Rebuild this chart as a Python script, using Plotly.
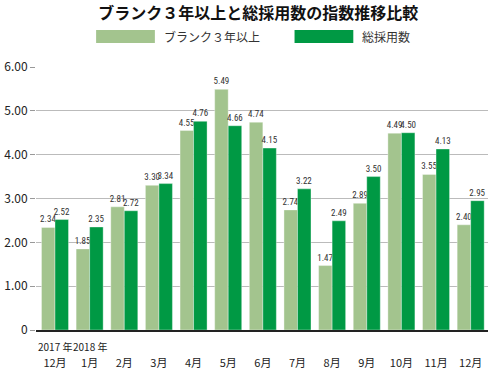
import plotly.graph_objects as go

months = ["12月", "1月", "2月", "3月", "4月", "5月", "6月", "7月", "8月", "9月", "10月", "11月", "12月"]
cat_keys = ["2017-12", "2018-01", "2018-02", "2018-03", "2018-04", "2018-05", "2018-06",
            "2018-07", "2018-08", "2018-09", "2018-10", "2018-11", "2018-12"]
year_labels = {"2017-12": "2017 年", "2018-01": "2018 年"}
blank3 = [2.34, 1.85, 2.81, 3.30, 4.55, 5.49, 4.74, 2.74, 1.47, 2.89, 4.49, 3.55, 2.40]
hires = [2.52, 2.35, 2.72, 3.34, 4.76, 4.66, 4.15, 3.22, 2.49, 3.50, 4.50, 4.13, 2.95]
series_names = ["ブランク３年以上", "総採用数"]
ytick_vals = [0, 1, 2, 3, 4, 5, 6]
ytick_text = ["0", "1.00", "2.00", "3.00", "4.00", "5.00", "6.00"]

LIGHT = "#a3c48e"
DARK = "#009944"
FONT = "Noto Sans CJK JP"
NUMFONT = "Roboto Condensed, DejaVu Sans Condensed, Roboto"

fig = go.Figure()
for name, vals, col in [(series_names[0], blank3, LIGHT), (series_names[1], hires, DARK)]:
    fig.add_trace(go.Bar(
        x=cat_keys, y=vals, name=name,
        marker=dict(color=col, line=dict(color="rgba(255,255,255,0.6)", width=0.6)),
        text=[f"{v:.2f}" for v in vals], textposition="outside", constraintext="none",
        textfont=dict(size=9, color="#333333", family=NUMFONT),
        cliponaxis=False, showlegend=False,
    ))

fig.update_layout(
    width=492, height=369,
    margin=dict(l=36, r=4, t=67, b=39),
    paper_bgcolor="white", plot_bgcolor="white",
    barmode="group", bargap=0.22, bargroupgap=0,
    font=dict(family=FONT, color="#222222"),
    title=dict(text="<b>ブランク３年以上と総採用数の指数推移比較</b>", x=0.525, xanchor="center",
               y=0.965, yanchor="middle", font=dict(size=16, color="#111111", family=FONT)),
)
fig.update_yaxes(range=[0, 6], tickvals=ytick_vals, ticktext=ytick_text,
                 showgrid=True, gridcolor="#bbbbbb", gridwidth=1,
                 ticks="outside", ticklen=5, tickcolor="#999999",
                 tickfont=dict(size=12, color="#222222", family=FONT),
                 zeroline=False, showline=False, automargin=False)
fig.update_xaxes(tickvals=cat_keys, ticktext=months, type="category",
                 tickfont=dict(size=11, color="#222222", family=FONT),
                 ticklabelstandoff=22,
                 showline=True, linecolor="#222222", linewidth=1.5, ticks="", tickangle=0,
                 automargin=False)

# year labels above the month labels
for key, txt in year_labels.items():
    fig.add_annotation(xref="x", yref="paper", x=key, y=-0.064, text=txt, showarrow=False,
                       xanchor="center", yanchor="middle",
                       font=dict(size=10, color="#222222", family=FONT))

# custom legend (wide swatches)
legend_items = [(0.133, 0.263, 0.278, LIGHT, series_names[0]), (0.572, 0.702, 0.717, DARK, series_names[1])]
for x0, x1, tx, col, name in legend_items:
    fig.add_shape(type="rect", xref="paper", yref="paper", x0=x0, x1=x1, y0=1.091, y1=1.141,
                  fillcolor=col, line=dict(width=0))
    fig.add_annotation(xref="paper", yref="paper", x=tx, y=1.116, text=name, showarrow=False,
                       xanchor="left", yanchor="middle", font=dict(size=12, color="#333333", family=FONT))

fig.write_html("out.html", config={"displayModeBar": False},
               post_script="document.body.style.margin='0';document.body.style.padding='0';")
